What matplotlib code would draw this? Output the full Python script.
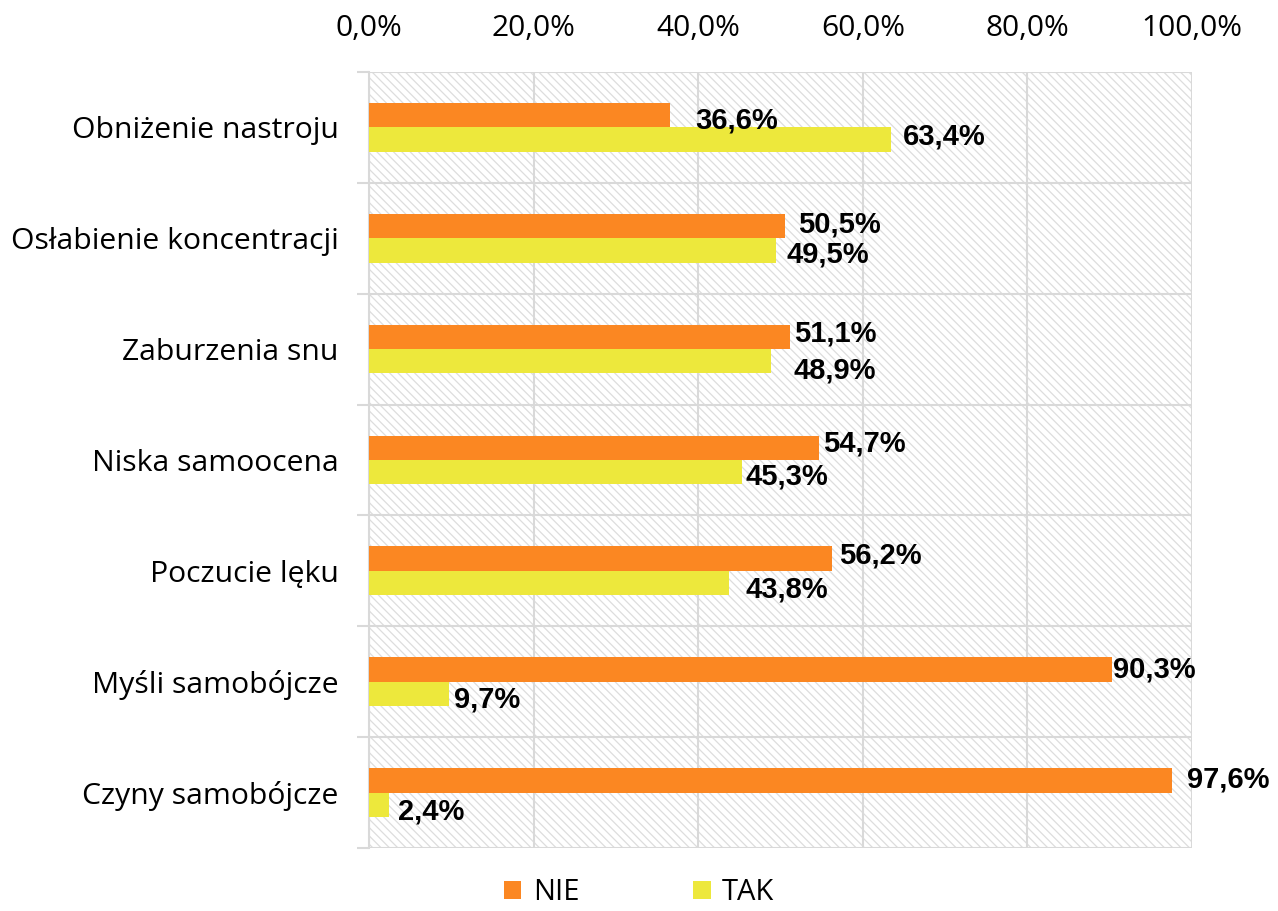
import matplotlib
matplotlib.use("Agg")
import matplotlib.pyplot as plt
from matplotlib.patches import Rectangle
from matplotlib.ticker import FuncFormatter, MultipleLocator

categories = ["Obniżenie nastroju", "Osłabienie koncentracji", "Zaburzenia snu",
              "Niska samoocena", "Poczucie lęku", "Myśli samobójcze", "Czyny samobójcze"]
nie = [36.6, 50.5, 51.1, 54.7, 56.2, 90.3, 97.6]
tak = [63.4, 49.5, 48.9, 45.3, 43.8, 9.7, 2.4]

ORANGE = "#FB8722"
YELLOW = "#EDE83C"
GRID = "#d9d9d9"

# label nudges in pixels (dx, dy) - Excel places them a bit irregularly
nie_off = [(25, 5), (13, -2), (5, -3), (4, -4), (8, -3), (1, 0), (15, -1)]
tak_off = [(12, -3), (10, 4), (22, 9), (4, 4), (16, 6), (5, 6), (9, 7)]

plt.rcParams["font.family"] = ["Open Sans", "DejaVu Sans"]
plt.rcParams["hatch.linewidth"] = 0.9

fig = plt.figure(figsize=(12.78, 9.11), dpi=100)
ax = fig.add_axes([0.2887, 0.0692, 0.6440, 0.8518])

# hatched plot area
ax.add_patch(Rectangle((0, 0), 1, 1, transform=ax.transAxes, facecolor="white",
                       edgecolor="#dddddd", linewidth=0, hatch="\\\\\\\\", zorder=0.5))

pos = list(range(len(categories)))
h = 0.22
b1 = ax.barh([p - h / 2 for p in pos], nie, height=h, color=ORANGE, label="NIE", zorder=3)
b2 = ax.barh([p + h / 2 for p in pos], tak, height=h, color=YELLOW, label="TAK", zorder=3)

px = 72 / 100
for bars, vals, offs in ((b1, nie, nie_off), (b2, tak, tak_off)):
    for bar, v, (dx, dy) in zip(bars, vals, offs):
        y = bar.get_y() + bar.get_height() / 2
        ax.annotate(f"{v:.1f}%".replace(".", ","), (v, y), xytext=(dx * px, -dy * px),
                    textcoords="offset points", ha="left", va="center",
                    fontsize=21, fontweight="bold", family=["Liberation Sans", "DejaVu Sans"],
                    zorder=4)

ax.set_xlim(0, 100)
ax.set_ylim(len(categories) - 0.5, -0.5)
ax.xaxis.set_major_locator(MultipleLocator(20))
ax.xaxis.set_major_formatter(FuncFormatter(lambda x, _: f"{x:.1f}%".replace(".", ",")))
ax.xaxis.tick_top()
ax.tick_params(axis="x", length=0, pad=21, labelsize=21.5)

ax.set_yticks(pos)
ax.set_yticklabels(categories)
ax.set_yticks([p - 0.5 for p in pos] + [len(pos) - 0.5], minor=True)
ax.tick_params(axis="y", which="major", length=0, pad=22, labelsize=21.7)
ax.tick_params(axis="y", which="minor", length=9, width=1.5, color=GRID)

ax.grid(axis="x", which="major", color=GRID, linewidth=1.5, zorder=1)
ax.grid(axis="y", which="minor", color=GRID, linewidth=1.5, zorder=1)
for s in ("top", "right", "bottom"):
    ax.spines[s].set_visible(False)
ax.spines["left"].set_color(GRID)
ax.spines["left"].set_linewidth(1.5)

fig.legend(handles=[b1, b2], loc="center", bbox_to_anchor=(0.5, 0.02), ncol=2,
           frameon=False, fontsize=21, handlelength=0.6, handleheight=0.6,
           columnspacing=3.9, handletextpad=0.4)

fig.savefig("out.png", dpi=100)
